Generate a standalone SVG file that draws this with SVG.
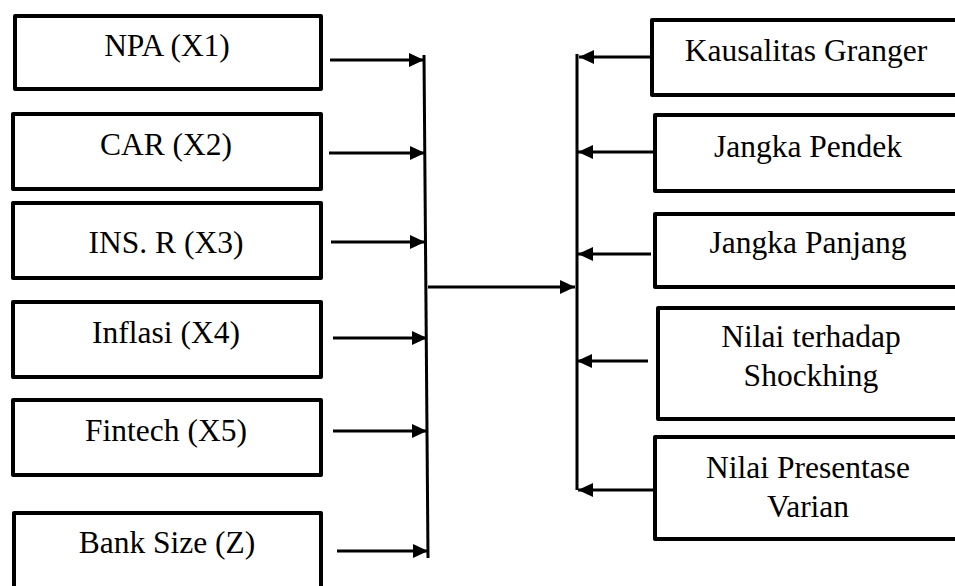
<svg xmlns="http://www.w3.org/2000/svg" width="955" height="586" viewBox="0 0 955 586">
<style>
.box{fill:#fff;stroke:#000;stroke-width:4;stroke-linejoin:round}
.c{stroke:#000;stroke-width:3;fill:none}
.a{marker-end:url(#ah)}
</style>
<defs>
<marker id="ah" markerUnits="userSpaceOnUse" markerWidth="16" markerHeight="14" refX="15" refY="7" orient="auto">
<path d="M0,0 L15,7 L0,14 Z" fill="#000"/>
</marker>
</defs>
<rect width="955" height="586" fill="#fff"/>
<g font-family="Liberation Serif, Times New Roman, Times, serif" font-size="31.5" text-anchor="middle" fill="#000">
<g id="n-npa"><rect class="box" x="15" y="16" width="306" height="73"/><text x="167" y="56">NPA (X1)</text></g>
<g id="n-car"><rect class="box" x="13" y="114" width="308" height="75"/><text x="166" y="155">CAR (X2)</text></g>
<g id="n-ins"><rect class="box" x="13" y="203" width="308" height="75"/><text x="166" y="253">INS. R (X3)</text></g>
<g id="n-inflasi"><rect class="box" x="13" y="302" width="308" height="75"/><text x="166" y="343">Inflasi (X4)</text></g>
<g id="n-fintech"><rect class="box" x="13" y="400" width="308" height="75"/><text x="166" y="441">Fintech (X5)</text></g>
<g id="n-bank"><rect class="box" x="14" y="513" width="307" height="100"/><text x="167" y="553">Bank Size (Z)</text></g>
<g id="n-kausalitas"><rect class="box" x="652" y="20" width="320" height="75"/><text x="806" y="61">Kausalitas Granger</text></g>
<g id="n-pendek"><rect class="box" x="655" y="115" width="320" height="76"/><text x="808" y="157">Jangka Pendek</text></g>
<g id="n-panjang"><rect class="box" x="655" y="214" width="320" height="73"/><text x="808" y="253">Jangka Panjang</text></g>
<g id="n-shock"><rect class="box" x="658" y="308" width="320" height="111"/><text x="811" y="347">Nilai terhadap</text><text x="811" y="386">Shockhing</text></g>
<g id="n-varian"><rect class="box" x="655" y="437" width="320" height="102"/><text x="808" y="478">Nilai Presentase</text><text x="808" y="517">Varian</text></g>
</g>
<g id="connectors">
<line class="c a" x1="330" y1="60" x2="424" y2="60"/>
<line class="c a" x1="329" y1="153" x2="425" y2="153"/>
<line class="c a" x1="331" y1="242" x2="425" y2="242"/>
<line class="c a" x1="333" y1="338" x2="427" y2="338"/>
<line class="c a" x1="333" y1="431" x2="427" y2="431"/>
<line class="c a" x1="337" y1="551" x2="428" y2="551"/>
<line class="c" x1="424" y1="55" x2="428" y2="558"/>
<line class="c a" x1="428" y1="287" x2="575" y2="287"/>
<line class="c" x1="577" y1="54" x2="577" y2="490"/>
<line class="c a" x1="650" y1="57" x2="579" y2="57"/>
<line class="c a" x1="653" y1="152" x2="578" y2="152"/>
<line class="c a" x1="651" y1="254" x2="578" y2="254"/>
<line class="c a" x1="648" y1="361" x2="577" y2="361"/>
<line class="c a" x1="653" y1="490" x2="578" y2="490"/>
</g>
</svg>
